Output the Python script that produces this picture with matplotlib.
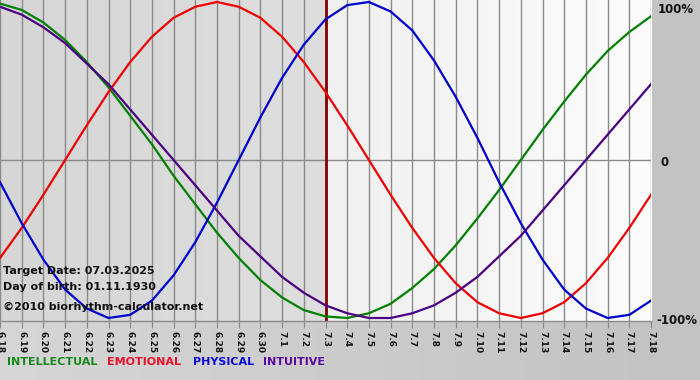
import matplotlib
matplotlib.use("Agg")
import matplotlib.pyplot as plt
import matplotlib.transforms as mtransforms
import numpy as np
from matplotlib.colors import LinearSegmentedColormap

# ---- data ----
dates = ["6.18", "6.19", "6.20", "6.21", "6.22", "6.23", "6.24", "6.25", "6.26", "6.27",
         "6.28", "6.29", "6.30", "7.1", "7.2", "7.3", "7.4", "7.5", "7.6", "7.7",
         "7.8", "7.9", "7.10", "7.11", "7.12", "7.13", "7.14", "7.15", "7.16", "7.17", "7.18"]
intellectual = [0.99, 0.95, 0.87, 0.76, 0.62, 0.46, 0.28, 0.10, -0.10, -0.28,
                -0.46, -0.62, -0.76, -0.87, -0.95, -0.99, -1.00, -0.97, -0.91, -0.81,
                -0.69, -0.54, -0.37, -0.19, 0.00, 0.19, 0.37, 0.54, 0.69, 0.81, 0.91]
emotional = [-0.62, -0.43, -0.22, 0.00, 0.22, 0.43, 0.62, 0.78, 0.90, 0.97,
             1.00, 0.97, 0.90, 0.78, 0.62, 0.43, 0.22, 0.00, -0.22, -0.43,
             -0.62, -0.78, -0.90, -0.97, -1.00, -0.97, -0.90, -0.78, -0.62, -0.43, -0.22]
physical = [-0.14, -0.40, -0.63, -0.82, -0.94, -1.00, -0.98, -0.89, -0.73, -0.52,
            -0.27, 0.00, 0.27, 0.52, 0.73, 0.89, 0.98, 1.00, 0.94, 0.82,
            0.63, 0.40, 0.14, -0.14, -0.40, -0.63, -0.82, -0.94, -1.00, -0.98, -0.89]
intuitive = [0.97, 0.92, 0.84, 0.74, 0.61, 0.48, 0.32, 0.16, 0.00, -0.16,
             -0.32, -0.48, -0.61, -0.74, -0.84, -0.92, -0.97, -1.00, -1.00, -0.97,
             -0.92, -0.84, -0.74, -0.61, -0.48, -0.32, -0.16, 0.00, 0.16, 0.32, 0.48]
target_date = "7.3"
y_ticks = [1, 0, -1]
y_tick_labels = ["100%", "0", "-100%"]
info_lines = ["Target Date: 07.03.2025", "Day of birth: 01.11.1930", "\u00a92010 biorhythm-calculator.net"]
legend_names = ["INTELLECTUAL", "EMOTIONAL", "PHYSICAL", "INTUITIVE"]

# ---- styling ----
W, H = 700, 380
col_int = "#008000"
col_emo = "#ee0000"
col_phy = "#0000cc"
col_itu = "#4b0082"
legend_cols = ["#15881a", "#e8102a", "#0a0ad8", "#5a0aa0"]
FONT = "DejaVu Sans"

fig = plt.figure(figsize=(W / 100, H / 100), dpi=100)

# figure background gradient
bg = fig.add_axes([0, 0, 1, 1])
bg.axis("off")
grad = np.linspace(0, 1, 256).reshape(1, -1)
bg.imshow(grad, aspect="auto", extent=[0, 1, 0, 1],
          cmap=LinearSegmentedColormap.from_list("bgc", ["#d6d6d6", "#c2c2c2"]))
bg.set_xlim(0, 1)
bg.set_ylim(0, 1)

# plot area
px_left, px_right, px_top, px_bottom = 0, 651, 0, 321
ax = fig.add_axes([px_left / W, (H - px_bottom) / H, (px_right - px_left) / W, (px_bottom - px_top) / H])
x = np.arange(len(dates))
y_top = 160 / 158
y_bot = -(321 - 160) / 158

t_idx = dates.index(target_date)
# plot backgrounds: gray before target, light after
ax.imshow(grad, aspect="auto", extent=[0, t_idx, y_bot, y_top], zorder=0,
          cmap=LinearSegmentedColormap.from_list("l", ["#d6d6d6", "#dedede"]))
ax.imshow(grad, aspect="auto", extent=[t_idx, len(dates) - 1, y_bot, y_top], zorder=0,
          cmap=LinearSegmentedColormap.from_list("r", ["#f0f0f0", "#fcfcfc"]))
ax.set_xlim(0, len(dates) - 1)
ax.set_ylim(y_bot, y_top)

for xi in x:
    ax.axvline(xi, color="#8a8a8a", lw=1.0, zorder=1)
ax.axhline(0, color="#8a8a8a", lw=1.0, zorder=1)
ax.axvline(t_idx, color="#800000", lw=2.0, zorder=2)

lw = 1.6
ax.plot(x, intellectual, color=col_int, lw=lw, zorder=3)
ax.plot(x, emotional, color=col_emo, lw=lw, zorder=3)
ax.plot(x, physical, color=col_phy, lw=lw, zorder=3)
ax.plot(x, intuitive, color=col_itu, lw=lw, zorder=3)

for s in ["top", "left", "right"]:
    ax.spines[s].set_visible(False)
ax.spines["bottom"].set_color("#8a8a8a")
ax.spines["bottom"].set_linewidth(1.0)

ax.set_xticks(x)
ax.set_xticklabels(dates, rotation=-90, fontsize=6.5, fontweight="bold", family=FONT)
ax.tick_params(axis="x", length=5, color="#8a8a8a", pad=2, labelcolor="#111111")

ax.yaxis.tick_right()
ax.set_yticks(y_ticks)
ax.set_yticklabels(y_tick_labels, fontsize=8.5, fontweight="bold", family=FONT)
ax.tick_params(axis="y", length=0, pad=5, labelcolor="#111111")
# shift labels down a little, as in the reference
shifts = {"100%": (0, -7), "0": (3, -2), "-100%": (-2, -3)}
for lbl in ax.get_yticklabels():
    dx, dy = shifts.get(lbl.get_text(), (0, 0))
    lbl.set_verticalalignment("center")
    lbl.set_transform(lbl.get_transform() + mtransforms.ScaledTranslation(dx / 100, dy / 100, fig.dpi_scale_trans))

# info text block
info_y = [271, 287, 307]
for txt, yy in zip(info_lines, info_y):
    fig.text(3 / W, 1 - yy / H, txt, fontsize=8, fontweight="bold", family=FONT,
             color="#111111", va="center", ha="left", zorder=5)

# legend words
leg_x = [7, 107, 193, 263]
for name, c, lx in zip(legend_names, legend_cols, leg_x):
    fig.text(lx / W, 1 - 362 / H, name, fontsize=8, fontweight="bold", family=FONT,
             color=c, va="center", ha="left")

fig.savefig("out.png", dpi=100)
